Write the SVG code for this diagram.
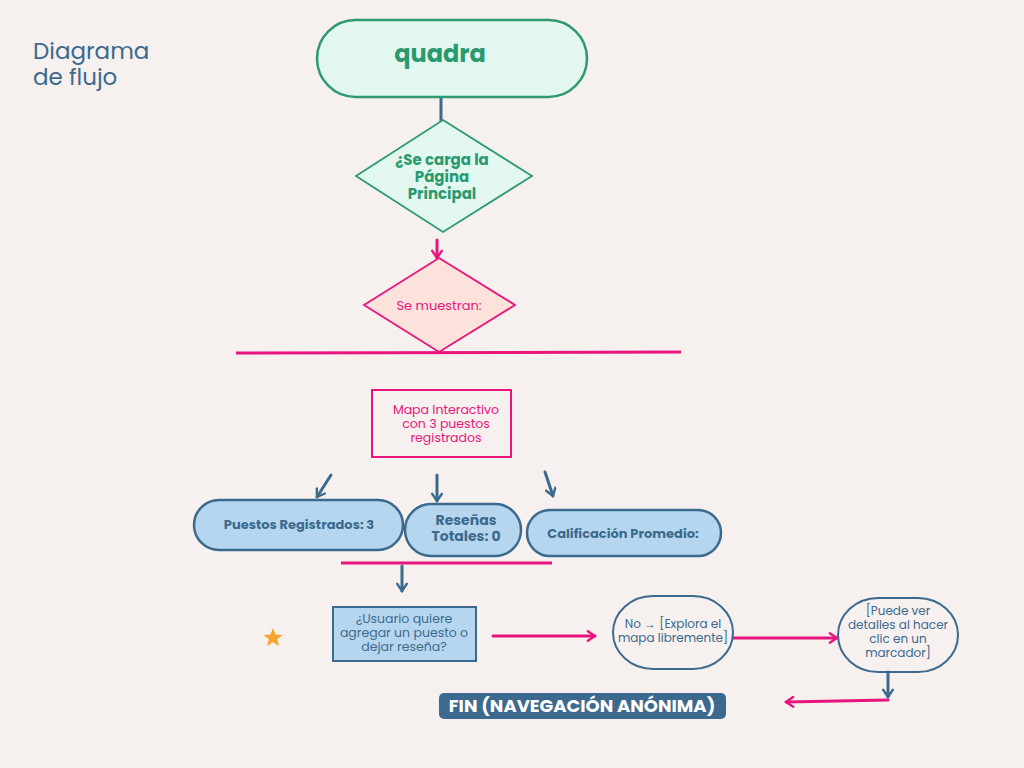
<svg xmlns="http://www.w3.org/2000/svg" width="1024" height="768" viewBox="0 0 1024 768">
<defs>
<style>
.bg{fill:#f6f1ee}
.t{font-family:"Poppins","Open Sans","Liberation Sans",sans-serif}
.g{fill:#2a9a6e}
.b{fill:#3b6a8e}
.p{fill:#e8157f}
.bold{font-weight:bold}
.pill{fill:#b6d6ef;stroke:#3b6a8e;stroke-width:2.5}
.lb{stroke:#3b6a8e;stroke-width:3;fill:none;stroke-linecap:round}
.lp{stroke:#e8157f;stroke-width:3;fill:none;stroke-linecap:round}
</style>
<marker id="ab" viewBox="0 0 10 10" refX="8" refY="5" markerWidth="4" markerHeight="4" orient="auto" markerUnits="strokeWidth">
<polyline points="2,1 8,5 2,9" fill="none" stroke="#3b6a8e" stroke-width="2" stroke-linecap="round" stroke-linejoin="round"/>
</marker>
<marker id="ap" viewBox="0 0 10 10" refX="8" refY="5" markerWidth="4" markerHeight="4" orient="auto" markerUnits="strokeWidth">
<polyline points="2,1 8,5 2,9" fill="none" stroke="#e8157f" stroke-width="2" stroke-linecap="round" stroke-linejoin="round"/>
</marker>
</defs>
<rect class="bg" x="0" y="0" width="1024" height="768"/>

<g id="title">
<text class="t b" font-size="23"><tspan x="33" y="59">Diagrama</tspan><tspan x="33" y="85">de flujo</tspan></text>
</g>

<g id="connectors">
<line class="lb" x1="441" y1="97" x2="441" y2="121"/>
<line class="lp" x1="437" y1="240" x2="437" y2="258" marker-end="url(#ap)"/>
<line x1="236" y1="353" x2="681" y2="352" stroke="#e8157f" stroke-width="3"/>
<line class="lb" x1="331" y1="475" x2="317" y2="497" marker-end="url(#ab)"/>
<line class="lb" x1="437" y1="475" x2="437" y2="501" marker-end="url(#ab)"/>
<line class="lb" x1="545" y1="472" x2="553" y2="496" marker-end="url(#ab)"/>
<line x1="341" y1="563" x2="552" y2="563" stroke="#e8157f" stroke-width="3"/>
<line class="lb" x1="402" y1="566" x2="402" y2="591" marker-end="url(#ab)"/>
<line class="lp" x1="493" y1="636" x2="595" y2="636" marker-end="url(#ap)"/>
<line class="lp" x1="733" y1="638" x2="837" y2="638" marker-end="url(#ap)"/>
<line class="lb" x1="888" y1="672" x2="888" y2="697" marker-end="url(#ab)"/>
<line class="lp" x1="888" y1="700" x2="786" y2="702" marker-end="url(#ap)"/>
</g>

<g id="start">
<rect x="317" y="20" width="270" height="77" rx="38.5" fill="#e3f7f1" stroke="#2f9a72" stroke-width="2.5"/>
<text class="t g bold" x="440" y="62" font-size="24" text-anchor="middle">quadra</text>
</g>

<g id="decision1">
<polygon points="443,120 532,176 443,232 356,176" fill="#e3f7f1" stroke="#2f9a72" stroke-width="1.8"/>
<text class="t g bold" font-size="15" text-anchor="middle"><tspan x="442" y="165">¿Se carga la</tspan><tspan x="442" y="182">Página</tspan><tspan x="442" y="199">Principal</tspan></text>
</g>

<g id="decision2">
<polygon points="439,258 515,305 439,352 364,305" fill="#fde2dc" stroke="#e8157f" stroke-width="1.8"/>
<text class="t p" x="439" y="310" font-size="13" text-anchor="middle">Se muestran:</text>
</g>

<g id="mapa">
<rect x="372" y="390" width="139" height="67" fill="none" stroke="#e8157f" stroke-width="2"/>
<text class="t p" font-size="12.5" text-anchor="middle"><tspan x="446" y="414">Mapa Interactivo</tspan><tspan x="446" y="428">con 3 puestos</tspan><tspan x="446" y="442">registrados</tspan></text>
</g>

<g id="puestos">
<rect class="pill" x="194" y="500" width="209" height="50" rx="25"/>
<text class="t b bold" x="299" y="529" font-size="13" text-anchor="middle">Puestos Registrados: 3</text>
</g>

<g id="resenas">
<rect class="pill" x="405" y="504" width="116" height="52" rx="26"/>
<text class="t b bold" font-size="14" text-anchor="middle"><tspan x="466" y="525">Reseñas</tspan><tspan x="466" y="541">Totales: 0</tspan></text>
</g>

<g id="calificacion">
<rect class="pill" x="527" y="510" width="194" height="46" rx="23"/>
<text class="t b bold" x="623" y="538" font-size="13" text-anchor="middle">Calificación Promedio:</text>
</g>

<g id="star">
<polygon points="273,628 275.6,634.4 282.5,634.9 277.2,639.3 278.9,646 273,642.3 267.1,646 268.8,639.3 263.5,634.9 270.4,634.4" fill="#f6a530"/>
</g>

<g id="usuario">
<rect x="333" y="607" width="143" height="54" fill="#b6d6ef" stroke="#3b6a8e" stroke-width="2"/>
<text class="t b" font-size="12.5" text-anchor="middle"><tspan x="404" y="623">¿Usuario quiere</tspan><tspan x="404" y="637">agregar un puesto o</tspan><tspan x="404" y="651">dejar reseña?</tspan></text>
</g>

<g id="no">
<rect x="613" y="596" width="120" height="73" rx="40" fill="none" stroke="#3b6a8e" stroke-width="2"/>
<text class="t b" font-size="12" text-anchor="middle"><tspan x="673" y="628">No → [Explora el</tspan><tspan x="673" y="642">mapa libremente]</tspan></text>
</g>

<g id="detalles">
<rect x="838" y="598" width="120" height="74" rx="40" fill="none" stroke="#3b6a8e" stroke-width="2"/>
<text class="t b" font-size="12" text-anchor="middle"><tspan x="898" y="615">[Puede ver</tspan><tspan x="898" y="629">detalles al hacer</tspan><tspan x="898" y="643">clic en un</tspan><tspan x="898" y="657">marcador]</tspan></text>
</g>

<g id="fin">
<rect x="439" y="693" width="287" height="26" rx="5" fill="#3b6a8e"/>
<text class="t bold" x="582" y="712" font-size="18" fill="#ffffff" text-anchor="middle">FIN (NAVEGACIÓN ANÓNIMA)</text>
</g>
</svg>
